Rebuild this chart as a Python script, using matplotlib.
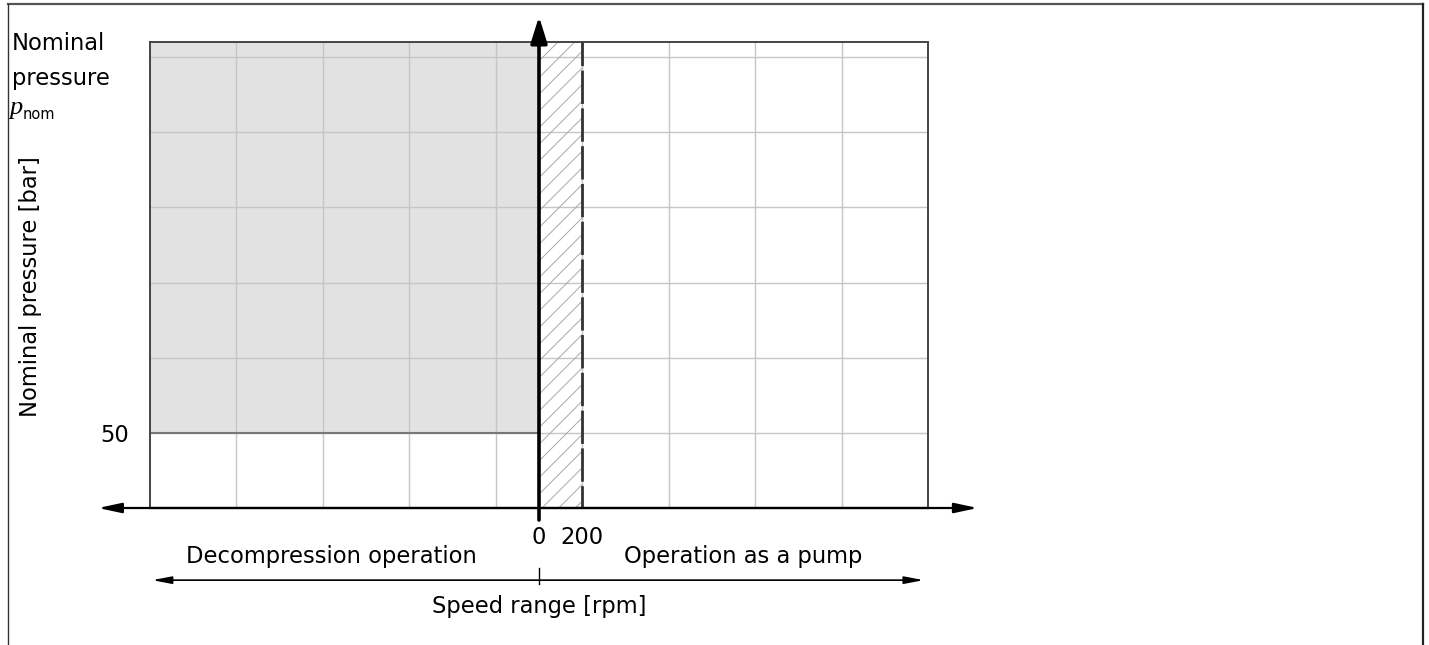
import matplotlib
matplotlib.use("Agg")
import matplotlib.pyplot as plt
from matplotlib.lines import Line2D

W, H, DPI = 1429, 645, 100

# --- data ---------------------------------------------------------------------
X_MIN, X_MAX = -1800, 1800          # rpm (diagram extent)
Y_MAX = 310                         # bar (top of diagram)
X_GRID = [-1400, -1000, -600, -200, 200, 600, 1000, 1400]
Y_GRID = [50, 100, 150, 200, 250, 300]
P_DECOMP_MIN = 50                   # bar, lower edge of decompression zone
N_LOW = 200                         # rpm, end of low-speed band
X_TICKS = [0, 200]
X_TICK_LABELS = ["0", "200"]
Y_TICKS = [50]
Y_TICK_LABELS = ["50"]

C_FILL = "#e2e2e2"
C_GRID = "#c6c6c6"
C_BOX = "#444444"
FS = 16.3

plt.rcParams["font.family"] = ["DejaVu Sans"]
plt.rcParams["hatch.linewidth"] = 0.7

fig = plt.figure(figsize=(W / DPI, H / DPI), dpi=DPI)
fig.patch.set_facecolor("white")

# axes box in pixel coords: x 150..928, y 42..508
ax = fig.add_axes([150 / W, (H - 508) / H, 778 / W, 466 / H])
ax.set_xlim(X_MIN, X_MAX)
ax.set_ylim(0, Y_MAX)
ax.set_facecolor("none")

# decompression zone
ax.fill_between([X_MIN, 0], P_DECOMP_MIN, Y_MAX, color=C_FILL, lw=0, zorder=0)

# grid
ax.vlines(X_GRID, 0, Y_MAX, colors=C_GRID, lw=1.0, zorder=1)
ax.hlines(Y_GRID, X_MIN, X_MAX, colors=C_GRID, lw=1.0, zorder=1)
ax.hlines(P_DECOMP_MIN, X_MIN, 0, colors="#777777", lw=1.5, zorder=2)

# low-speed band (hatched)
ax.fill_between([0, N_LOW], 0, Y_MAX, facecolor="none", edgecolor="#a8a8a8",
                hatch="//", lw=0, zorder=1.5)
ax.vlines(N_LOW, -7, Y_MAX, colors="#333333", lw=2.0,
          linestyles=[(0, (12, 1.6))], zorder=3)

for side in ["left", "right", "top"]:
    ax.spines[side].set_color(C_BOX)
    ax.spines[side].set_linewidth(1.4)
ax.spines["bottom"].set_color("black")
ax.spines["bottom"].set_linewidth(1.6)

ax.set_xticks(X_TICKS, X_TICK_LABELS, fontsize=FS)
ax.set_yticks(Y_TICKS, Y_TICK_LABELS, fontsize=FS)
ax.tick_params(length=0)
ax.tick_params(axis="x", pad=13)
ax.tick_params(axis="y", pad=15)

# speed axis (double arrow)
ax.annotate("", xy=(2030, 0), xytext=(-2040, 0), annotation_clip=False,
            arrowprops=dict(arrowstyle="<|-|>,head_length=1.4,head_width=0.3",
                            mutation_scale=10, lw=1.6, color="black",
                            shrinkA=0, shrinkB=0))
# pressure axis at n = 0
ax.annotate("", xy=(0, 327), xytext=(0, -8), annotation_clip=False,
            arrowprops=dict(arrowstyle="-|>,head_length=1.6,head_width=0.5",
                            mutation_scale=10, lw=2.6, color="black",
                            shrinkA=0, shrinkB=0))
# speed range arrow below
ax.annotate("", xy=(1780, -48), xytext=(-1790, -48), annotation_clip=False,
            arrowprops=dict(arrowstyle="<|-|>,head_length=1.15,head_width=0.22",
                            mutation_scale=10, lw=1.2, color="black",
                            shrinkA=0, shrinkB=0))
ax.plot([0, 0], [-40, -50.5], color="black", lw=1.0, clip_on=False)

# labels
def px_text(x, y, s, **kw):
    kw.setdefault("fontsize", FS)
    fig.text(x / W, 1 - y / H, s, **kw)

px_text(331, 557, "Decompression operation", ha="center", va="center")
px_text(743, 557, "Operation as a pump", ha="center", va="center")
px_text(539, 607, "Speed range [rpm]", ha="center", va="center")
px_text(31, 287, "Nominal pressure [bar]", ha="center", va="center", rotation=90)
px_text(12, 44, "Nominal", ha="left", va="center")
px_text(12, 79, "pressure", ha="left", va="center")
px_text(10, 114, "p", ha="left", va="baseline", fontsize=19,
        family="Liberation Serif", style="italic")
px_text(23, 119, "nom", ha="left", va="baseline", fontsize=10.5)

# outer frame
fig.add_artist(Line2D([8 / W, 1423 / W], [1 - 4 / H, 1 - 4 / H],
                      transform=fig.transFigure, color="#555555", lw=1.6))
fig.add_artist(Line2D([8 / W, 8 / W], [0, 1 - 4 / H],
                      transform=fig.transFigure, color="#333333", lw=1.0))
fig.add_artist(Line2D([1423 / W, 1423 / W], [0, 1 - 4 / H],
                      transform=fig.transFigure, color="#222222", lw=1.6))

fig.savefig("out.png", dpi=DPI, facecolor="white")
plt.close(fig)
